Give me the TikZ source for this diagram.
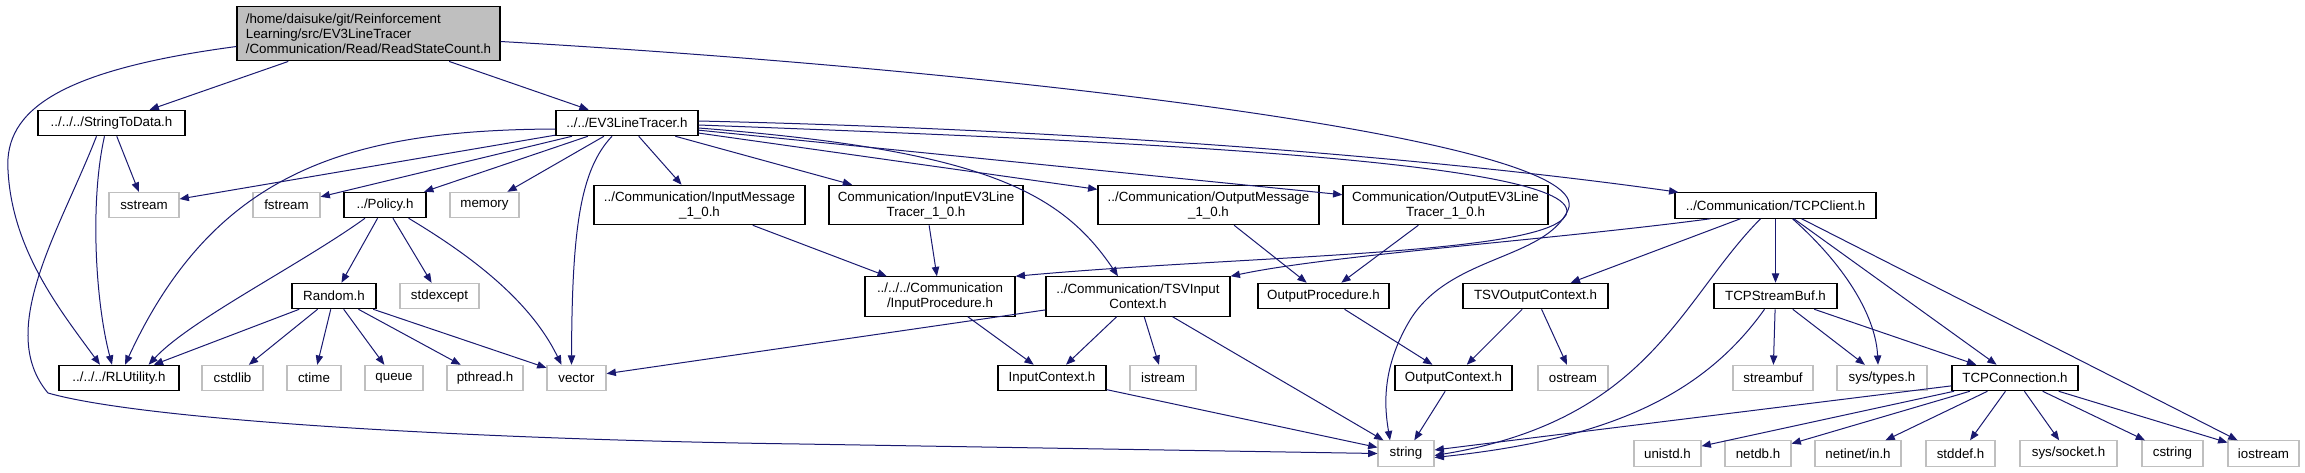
\documentclass[tikz,border=0pt]{standalone}
\usepackage{fontspec}
\setmainfont{Liberation Sans}
\usetikzlibrary{arrows.meta,calc}

\definecolor{edgeblue}{HTML}{191970}
\definecolor{grey75}{HTML}{BFBFBF}

\tikzset{
	hdr/.style={draw=black, line width=0.9pt, fill=white, inner sep=0pt,
		minimum height=19pt, align=center, font=\fontsize{10}{11.25}\selectfont},
	sysinc/.style={hdr, draw=grey75, line width=0.8pt},
	tall/.style={minimum height=29.5pt},
	wd/.style={minimum width=#1*0.75pt},
	dep/.style={draw=edgeblue, line width=0.75pt, -{Triangle[length=7pt,width=5.5pt]}},
}

\begin{document}
\begin{tikzpicture}[x=0.75pt, y=-0.75pt]
		\useasboundingbox (0,0) rectangle (2305,472);

		% the file itself
		\node [hdr, wd=263, minimum height=41pt, fill=grey75, align=left] (root) at (368.5,33.5)
			{/home/daisuke/git/Reinforcement\\Learning/src/EV3LineTracer\\/Communication/Read/ReadStateCount.h};

		% second row
		\node [hdr, wd=147] (s2d) at (111.5,123) {../../../StringToData.h};
		\node [hdr, wd=142] (ev3) at (627,123) {../../EV3LineTracer.h};

		% third row
		\node [sysinc, wd=70] (sstream) at (144,205) {sstream};
		\node [sysinc, wd=67] (fstream) at (286.5,205) {fstream};
		\node [hdr, wd=82] (policy) at (385,205) {../Policy.h};
		\node [sysinc, wd=69] (memory) at (484.5,205) {memory};
		\node [hdr, tall, wd=211] (inmsg) at (699.5,205) {../Communication/InputMessage\\\_1\_0.h};
		\node [hdr, tall, wd=194] (inev3) at (926,205) {Communication/InputEV3Line\\Tracer\_1\_0.h};
		\node [hdr, tall, wd=221] (outmsg) at (1208.5,205) {../Communication/OutputMessage\\\_1\_0.h};
		\node [hdr, tall, wd=205] (outev3) at (1445.5,205) {Communication/OutputEV3Line\\Tracer\_1\_0.h};
		\node [hdr, wd=201] (tcpclient) at (1775.5,205.5) {../Communication/TCPClient.h};

		% fourth row
		\node [hdr, wd=84] (random) at (334,296) {Random.h};
		\node [sysinc, wd=79] (stdexcept) at (439.5,296) {stdexcept};
		\node [hdr, tall, wd=150] (inproc) at (940,296.5) {../../../Communication\\/InputProcedure.h};
		\node [hdr, tall, wd=184] (tsvin) at (1138,296.5) {../Communication/TSVInput\\Context.h};
		\node [hdr, wd=131] (outproc) at (1323.5,296) {OutputProcedure.h};
		\node [hdr, wd=145] (tsvout) at (1535.5,296) {TSVOutputContext.h};
		\node [hdr, wd=123] (tcpbuf) at (1775.5,296) {TCPStreamBuf.h};

		% fifth row
		\node [hdr, wd=120] (rlutil) at (119,378) {../../../RLUtility.h};
		\node [sysinc, wd=61] (cstdlib) at (232.5,378) {cstdlib};
		\node [sysinc, wd=54] (ctime) at (314,378) {ctime};
		\node [sysinc, wd=58] (queue) at (394,378) {queue};
		\node [sysinc, wd=76] (pthread) at (485,378) {pthread.h};
		\node [sysinc, wd=59] (vector) at (576.5,378) {vector};
		\node [hdr, wd=108] (incontext) at (1052,378) {InputContext.h};
		\node [sysinc, wd=66] (istream) at (1163,378) {istream};
		\node [hdr, wd=117] (outcontext) at (1453.5,378) {OutputContext.h};
		\node [sysinc, wd=70] (ostream) at (1573,378) {ostream};
		\node [sysinc, wd=80] (streambuf) at (1773,378) {streambuf};
		\node [sysinc, wd=90] (systypes) at (1882,378) {sys/types.h};
		\node [hdr, wd=126] (tcpconn) at (2015,378) {TCPConnection.h};

		% bottom row
		\node [sysinc, wd=56] (string) at (1406,453.5) {string};
		\node [sysinc, wd=67] (unistd) at (1667.5,453.5) {unistd.h};
		\node [sysinc, wd=66] (netdb) at (1758,453.5) {netdb.h};
		\node [sysinc, wd=86] (netinet) at (1858,453.5) {netinet/in.h};
		\node [sysinc, wd=69] (stddef) at (1960.5,453.5) {stddef.h};
		\node [sysinc, wd=97] (syssocket) at (2068.5,453.5) {sys/socket.h};
		\node [sysinc, wd=61] (cstring) at (2172.5,453.5) {cstring};
		\node [sysinc, wd=71] (iostream) at (2263.5,453.5) {iostream};

		% includes of the file itself
		\draw [dep] (root) -- (s2d);
		\draw [dep] (root) -- (ev3);
		\draw [dep] ($(root.west)+(0,13)$) .. controls (60,70) and (4,110) .. (8,170)
			.. controls (12,250) and (60,310) .. ($(rlutil.north)+(-19,0)$);
		\draw [dep] ($(root.east)+(0,8)$) .. controls (1000,70) and (1600,140) .. (1568,210)
			.. controls (1545,260) and (1450,255) .. (1410,320)
			.. controls (1380,370) and (1385,410) .. ($(string.north)+(-16,0)$);

		% StringToData.h
		\draw [dep] (s2d) -- (sstream);
		\draw [dep] ($(s2d.south)+(-7,0)$) .. controls (90,200) and (95,300) .. ($(rlutil.north)+(-7,0)$);
		\draw [dep] ($(s2d.south)+(-15,0)$) .. controls (60,230) and (-5,330) .. (48,393)
			.. controls (150,422) and (500,440) .. (800,444) -- (string.west);

		% EV3LineTracer.h
		\draw [dep] (ev3) -- (sstream);
		\draw [dep] (ev3) -- (fstream);
		\draw [dep] (ev3) -- (policy);
		\draw [dep] (ev3) -- (memory);
		\draw [dep] (ev3) -- (inmsg);
		\draw [dep] (ev3) -- (inev3);
		\draw [dep] (ev3) -- (outmsg);
		\draw [dep] (ev3) -- (outev3);
		\draw [dep] ($(ev3.west)+(0,6)$) .. controls (350,130) and (215,170) .. ($(rlutil.north)+(6,0)$);
		\draw [dep] ($(ev3.south)+(-15,0)$) .. controls (580,170) and (572,230) .. ($(vector.north)+(-5,0)$);
		\draw [dep] ($(ev3.east)+(0,5)$) .. controls (980,150) and (1060,190) .. ($(tsvin.north)+(-20,0)$);
		\draw [dep] ($(ev3.east)+(0,-2)$) .. controls (1100,130) and (1450,160) .. ($(tcpclient.north west)+(4,0)$);
		\draw [dep] ($(ev3.east)+(0,2)$) .. controls (1100,140) and (1590,160) .. (1566,215)
			.. controls (1545,255) and (1250,255) .. (inproc.north east);

		% Policy.h and Random.h
		\draw [dep] (policy) -- (random);
		\draw [dep] (policy) -- (stdexcept);
		\draw [dep] ($(policy.south)+(-20,0)$) .. controls (300,265) and (190,320) .. ($(rlutil.north east)+(-31,0)$);
		\draw [dep] ($(policy.south east)+(-18,0)$) .. controls (470,255) and (530,300) .. ($(vector.north)+(-15,0)$);
		\foreach \dst in {rlutil,cstdlib,ctime,queue,pthread,vector}
			\draw [dep] (random) -- (\dst);

		% input side
		\draw [dep] (inmsg) -- (inproc);
		\draw [dep] (inev3) -- (inproc);
		\draw [dep] (inproc) -- (incontext);
		\draw [dep] (tsvin) -- (incontext);
		\draw [dep] (tsvin) -- (istream);
		\draw [dep] (tsvin) -- (vector);
		\draw [dep] (tsvin) -- (string);
		\draw [dep] (incontext) -- (string);

		% output side
		\draw [dep] (outmsg) -- (outproc);
		\draw [dep] (outev3) -- (outproc);
		\draw [dep] (outproc) -- (outcontext);
		\draw [dep] (tsvout) -- (outcontext);
		\draw [dep] (tsvout) -- (ostream);
		\draw [dep] (outcontext) -- (string);

		% TCPClient.h
		\draw [dep] ($(tcpclient.south west)+(36,0)$) .. controls (1550,240) and (1330,255) .. (tsvin.north east);
		\draw [dep] (tcpclient) -- (tsvout);
		\draw [dep] (tcpclient) -- (tcpbuf);
		\draw [dep] ($(tcpclient.south)+(-15,0)$) .. controls (1680,300) and (1650,420) .. ($(string.east)+(0,2)$);
		\draw [dep] ($(tcpclient.south)+(17,0)$) .. controls (1850,270) and (1876,320) .. ($(systypes.north)+(-4,0)$);
		\draw [dep] (tcpclient) -- (tcpconn);
		\draw [dep] (tcpclient) -- (iostream);

		% TCPStreamBuf.h
		\draw [dep] ($(tcpbuf.south)+(-11,0)$) .. controls (1700,400) and (1600,440) .. ($(string.east)+(0,4)$);
		\draw [dep] (tcpbuf) -- (streambuf);
		\draw [dep] (tcpbuf) -- (systypes);
		\draw [dep] (tcpbuf) -- (tcpconn);

		% TCPConnection.h
		\foreach \dst in {string,unistd,netdb,netinet,stddef,syssocket,cstring,iostream}
			\draw [dep] (tcpconn) -- (\dst);
	\end{tikzpicture}
\end{document}
